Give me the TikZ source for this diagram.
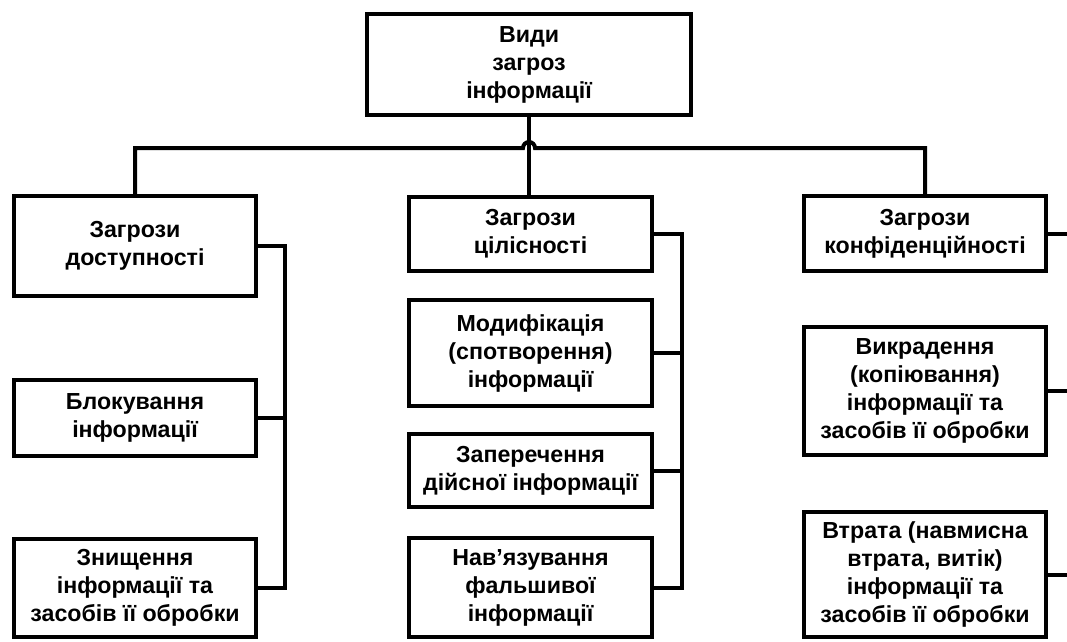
\documentclass[tikz,border=0pt]{standalone}
\usepackage{fontspec}
\setmainfont{Liberation Sans}
\usetikzlibrary{calc}
\begin{document}
\begin{tikzpicture}[x=0.75pt,y=-0.75pt,
  line width=3pt,
  box/.style={draw, line width=3pt, align=center, inner sep=2pt,
    font=\fontsize{17.4}{21}\selectfont\bfseries},
  link/.style={line width=3pt}]
\useasboundingbox (0,0) rectangle (1067,642);

% root
\node[box, minimum width=243pt, minimum height=75.75pt] (top) at (529,64.5) {Види\\загроз\\інформації};

% three kinds of threats
\node[box, minimum width=181.5pt, minimum height=75pt] (L1) at (135,246) {Загрози\\доступності};
\node[box, minimum width=182.25pt, minimum height=55.5pt] (M1) at (530.5,234) {Загрози\\цілісності};
\node[box, minimum width=181.5pt, minimum height=56.25pt] (R1) at (925,233.5) {Загрози\\конфіденційності};

% availability
\node[box, minimum width=181.5pt, minimum height=57pt] (LB) at (135,418) {Блокування\\інформації};
\node[box, minimum width=181.5pt, minimum height=73.5pt] (LZ) at (135,588) {Знищення\\інформації та\\засобів її обробки};

% integrity
\node[box, minimum width=182.25pt, minimum height=79.5pt] (MM) at (530.5,353) {Модифікація\\(спотворення)\\інформації};
\node[box, minimum width=182.25pt, minimum height=54.75pt] (MZ) at (530.5,470.5) {Заперечення\\дійсної інформації};
\node[box, minimum width=182.25pt, minimum height=74.25pt] (MN) at (530.5,587.5) {Нав’язування\\фальшивої\\інформації};

% confidentiality
\node[box, minimum width=181.5pt, minimum height=96pt] (RV) at (925,391) {Викрадення\\(копіювання)\\інформації та\\засобів її обробки};
\node[box, minimum width=181.5pt, minimum height=93.75pt] (RT) at (925,574.5) {Втрата (навмисна\\втрата, витік)\\інформації та\\засобів її обробки};

% helper coordinates
\coordinate (bus) at (0,148);
\coordinate (lspine) at (285,0);
\coordinate (mspine) at (682,0);
\coordinate (redge) at (1067,0);

% bus with a hop over the trunk
\draw[link] (L1.north) -- (L1.north |- bus)
  -- ($(top.south |- bus)+(-6,0)$) arc[start angle=180, end angle=0, radius=4.5pt]
  -- (R1.north |- bus) -- (R1.north);
\draw[link] (top.south) -- (top.south |- M1.north);

% availability spine
\draw[link] (L1.east) -- (L1.east -| lspine) -- (LZ.east -| lspine) -- (LZ.east);
\draw[link] (LB.east) -- (LB.east -| lspine);

% integrity spine
\draw[link] (M1.east) -- (M1.east -| mspine) -- (MN.east -| mspine) -- (MN.east);
\draw[link] (MM.east) -- (MM.east -| mspine);
\draw[link] (MZ.east) -- (MZ.east -| mspine);

% confidentiality stubs
\draw[link] (R1.east) -- (R1.east -| redge);
\draw[link] (RV.east) -- (RV.east -| redge);
\draw[link] (RT.east) -- (RT.east -| redge);
\end{tikzpicture}
\end{document}
